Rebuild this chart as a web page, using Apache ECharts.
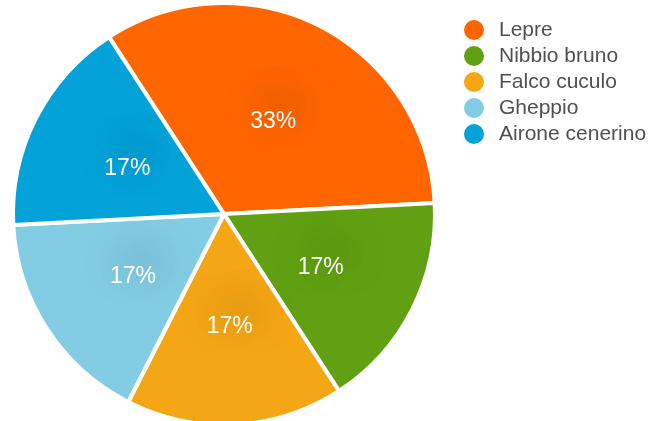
<!DOCTYPE html>
<html>
<head>
<meta charset="utf-8">
<script src="https://cdn.jsdelivr.net/npm/echarts@6/dist/echarts.min.js"></script>
<style>
  html, body { margin: 0; padding: 0; background: #ffffff; }
  #chart { width: 661px; height: 421px; }
</style>
</head>
<body>
<div id="chart"></div>
<script>
// Species and their counts
const categories = ['Lepre', 'Nibbio bruno', 'Falco cuculo', 'Gheppio', 'Airone cenerino'];
const counts = [2, 1, 1, 1, 1];
const colors = ['#FF6600', '#62A013', '#F4A614', '#82CCE4', '#03A3DA'];

const chart = echarts.init(document.getElementById('chart'), null, { renderer: 'canvas' });

chart.setOption({
  animation: false,
  color: colors,
  legend: {
    orient: 'vertical',
    left: 462,
    top: 18,
    padding: 0,
    icon: 'circle',
    itemWidth: 22,
    itemHeight: 22,
    itemGap: 2,
    data: categories,
    textStyle: {
      fontFamily: 'Liberation Sans, Arial, sans-serif',
      fontSize: 21,
      lineHeight: 20,
      color: '#505050',
      padding: [0, 0, 0, 9]
    }
  },
  series: [{
    type: 'pie',
    center: [224, 214],
    radius: 211,
    startAngle: 123,
    clockwise: true,
    avoidLabelOverlap: false,
    itemStyle: {
      borderColor: '#ffffff',
      borderWidth: 4
    },
    label: {
      show: true,
      position: 'inside',
      offset: [0, 4],
      formatter: p => Math.round(p.percent) + '%',
      fontFamily: 'Liberation Sans, Arial, sans-serif',
      fontSize: 23,
      color: '#ffffff',
      textShadowColor: 'rgba(0,0,0,0.5)',
      textShadowBlur: 34,
      textShadowOffsetX: 8,
      textShadowOffsetY: -13
    },
    labelLine: { show: false },
    emphasis: { disabled: true },
    data: categories.map((name, i) => ({ name, value: counts[i] }))
  }]
});
</script>
</body>
</html>
